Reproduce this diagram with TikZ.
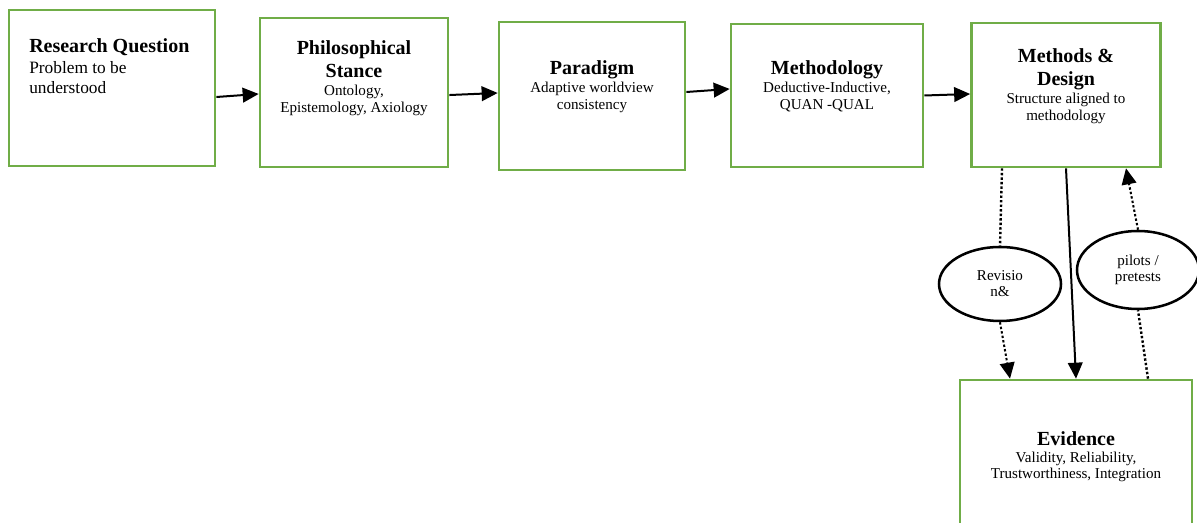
\documentclass[tikz,border=0pt]{standalone}
\usepackage{fontspec}
\setmainfont{Liberation Serif}
\usetikzlibrary{shapes,arrows.meta}
\definecolor{box_green}{RGB}{112, 173, 71}
% fixed baselines: every line break below gives its own distance
\newcommand{\tfont}{\fontsize{15}{0}\selectfont\bfseries\lineskiplimit=-\maxdimen}
\newcommand{\bfont}{\fontsize{11.3}{0}\selectfont\lineskiplimit=-\maxdimen}
\newcommand{\qfont}{\fontsize{13}{0}\selectfont\lineskiplimit=-\maxdimen}
\tikzstyle{gbox}=[rectangle,draw=box_green,line width=2pt,fill=white]
\tikzstyle{txt}=[inner sep=0pt,anchor=north,align=center,font=\bfont]
\tikzstyle{oval}=[ellipse,draw=black,line width=1.9pt,inner sep=0pt,
  minimum width=91.5pt,align=center,font=\bfont]
\tikzstyle{arr}=[line width=1.5pt,-{Triangle[length=12pt,width=11pt]}]
\tikzstyle{dots}=[line width=1.8pt,dash pattern=on 1.8pt off 1.6pt]

\begin{document}
\begin{tikzpicture}[x=0.75pt,y=-0.75pt]
    \useasboundingbox (0,0) rectangle (1197,523);
    \clip (0,0) rectangle (1197,523);
    % boxes
    \node [gbox,minimum width=154.5pt,minimum height=117pt] (rq) at (112,88) {};
    \node [gbox,minimum width=141pt,minimum height=111.75pt] (phil) at (354,92.5) {};
    \node [gbox,minimum width=139.5pt,minimum height=111pt] (para) at (592,96) {};
    \node [gbox,minimum width=144pt,minimum height=107.25pt] (meth) at (827,95.5) {};
    \node [gbox,minimum width=141.75pt,minimum height=108pt] (md) at (1066,95) {};
    \node [gbox,minimum width=174pt,minimum height=120pt] (evid) at (1076,460) {};
    % texts
    \node [txt,anchor=north west,align=left] (rqt) at (29,38.5)
        {\tfont Research Question\\[15.75pt]\qfont Problem to be\\[15pt]\qfont understood};
    \node [txt] (philt) at (354,40.5)
        {\tfont Philosophical\\[17.25pt]\tfont Stance\\[13.5pt]\bfont Ontology,\\[12.75pt]\bfont Epistemology, Axiology};
    \node [txt] (parat) at (592,60.5)
        {\tfont Paradigm\\[13.5pt]\bfont Adaptive worldview\\[12.75pt]\bfont consistency};
    \node [txt] (metht) at (827,60.5)
        {\tfont Methodology\\[13.5pt]\bfont Deductive-Inductive,\\[12.75pt]\bfont QUAN -QUAL};
    \node [txt] (mdt) at (1066,48.5)
        {\tfont Methods \&\\[17.25pt]\tfont Design\\[13.5pt]\bfont Structure aligned to\\[12.75pt]\bfont methodology};
    \node [txt] (evidt) at (1076,431.5)
        {\tfont Evidence\\[12.75pt]\bfont Validity, Reliability,\\[12pt]\bfont Trustworthiness, Integration};
    % ovals
    \node [oval,minimum height=55.5pt] (rev) at (1000,284) {\bfont Revisio\\[12pt]\bfont n\&};
    \node [oval,minimum height=58.5pt] (pil) at (1138,270) {\bfont pilots /\\[12pt]\bfont pretests};
    % arrows
    \draw [arr] ([yshift=-6.75pt]rq.east) to ([yshift=-1.1pt]phil.west);
    \draw [arr] ([yshift=-1.9pt]phil.east) to ([yshift=2.25pt]para.west);
    \draw [arr] ([yshift=3pt]para.east) to ([yshift=4.9pt]meth.west);
    \draw [arr] (meth.east) to ([yshift=0.75pt]md.west);
    \draw [arr] (md.south) to (evid.north);
    \draw [dots] ([xshift=-48pt]md.south) to (rev.north);
    \draw [dots,arr] (rev.south) to ([xshift=-49.5pt]evid.north);
    \draw [dots] ([xshift=54pt]evid.north) to (pil.south);
    \draw [dots,arr] (pil.north) to ([xshift=45pt]md.south);
\end{tikzpicture}
\end{document}
